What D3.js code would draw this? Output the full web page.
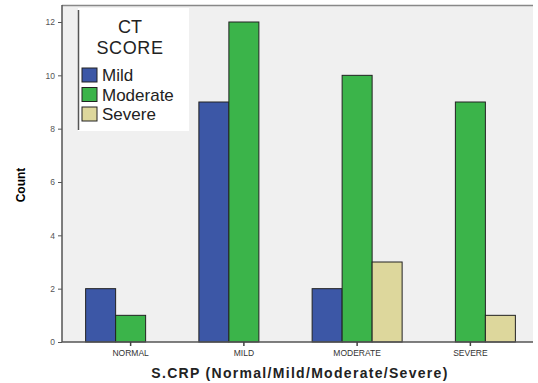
<!DOCTYPE html>
<html lang="en">
<head>
  <meta charset="UTF-8">
  <title>CT Score by S.CRP</title>
  <style>
      body { margin: 0; background: #fff; }
      text { font-family: Arial, "Liberation Sans", sans-serif; }
  </style>
</head>
<body>
<div id="chart"></div>
<script src="https://d3js.org/d3.v7.min.js"></script>
<script>
  const categories = ['NORMAL', 'MILD', 'MODERATE', 'SEVERE'];
  const series = ['Mild', 'Moderate', 'Severe'];
  const mild = [2, 9, 2, 0];
  const moderate = [1, 12, 10, 9];
  const severe = [0, 0, 3, 1];
  const yTicks = [0, 2, 4, 6, 8, 10, 12];
  const colors = ['#3c57a6', '#3bb44a', '#ddd79c'];

  const values = [mild, moderate, severe];

  const W = 538, H = 383;
  const plot = {left: 62, right: 533, top: 5, bottom: 342};

  const svg = d3.select("#chart").append("svg")
    .attr("width", W)
    .attr("height", H);

  svg.append("rect")
    .attr("x", plot.left).attr("y", plot.top)
    .attr("width", plot.right - plot.left)
    .attr("height", plot.bottom - plot.top)
    .attr("fill", "#f0f0f0");

  svg.append("line")
    .attr("x1", plot.left).attr("x2", plot.right)
    .attr("y1", plot.top + 0.5).attr("y2", plot.top + 0.5)
    .attr("stroke", "#888").attr("stroke-width", 1.5);

  const x = d3.scaleBand()
    .domain(categories)
    .range([74, 527])
    .padding(0);

  const x1 = d3.scaleBand()
    .domain(series)
    .range([0, 90]);

  const y = d3.scaleLinear()
    .domain([0, 12])
    .range([plot.bottom, 22]);

  // bars
  const groups = svg.selectAll(".grp")
    .data(categories)
    .enter().append("g")
    .attr("class", "grp")
    .attr("transform", d => `translate(${x(d) + x.bandwidth() / 2 - 45},0)`);

  groups.selectAll("rect")
    .data((c, i) => series.map((s, j) => ({s, j, v: values[j][i]})).filter(d => d.v > 0))
    .enter().append("rect")
    .attr("x", d => x1(d.s))
    .attr("y", d => y(d.v))
    .attr("width", x1.bandwidth())
    .attr("height", d => y(0) - y(d.v))
    .attr("fill", d => colors[d.j])
    .attr("stroke", "#222")
    .attr("stroke-width", 1);

  // axes
  const yAxis = svg.append("g")
    .attr("transform", `translate(${plot.left},0)`)
    .call(d3.axisLeft(y).tickValues(yTicks).tickSize(4).tickPadding(3));
  yAxis.select(".domain").attr("stroke", "#555").attr("stroke-width", 1.5)
    .attr("d", `M0,${plot.top}V${plot.bottom}`);
  yAxis.selectAll(".tick line").attr("stroke", "#555");
  yAxis.selectAll(".tick text").style("font-size", "8.5px").attr("fill", "#555");

  const xAxis = svg.append("g")
    .attr("transform", `translate(0,${plot.bottom})`)
    .call(d3.axisBottom(x).tickSize(4).tickPadding(4));
  xAxis.select(".domain").attr("stroke", "#555").attr("stroke-width", 1.5)
    .attr("d", `M${plot.left},0H${plot.right}`);
  xAxis.selectAll(".tick line").attr("stroke", "#444").attr("stroke-width", 1.5);
  xAxis.selectAll(".tick text").style("font-size", "8.5px").attr("fill", "#333");

  // axis titles
  svg.append("text")
    .attr("transform", "translate(25,185) rotate(-90)")
    .attr("text-anchor", "middle")
    .style("font-size", "12px")
    .style("font-weight", "bold")
    .text("Count");

  svg.append("text")
    .attr("x", 300).attr("y", 378)
    .attr("text-anchor", "middle")
    .style("font-size", "14px")
    .style("font-weight", "bold")
    .style("letter-spacing", "1.3px")
    .attr("fill", "#222")
    .text("S.CRP (Normal/Mild/Moderate/Severe)");

  // legend
  const legend = svg.append("g");
  legend.append("rect")
    .attr("x", 78).attr("y", 8)
    .attr("width", 111).attr("height", 123)
    .attr("fill", "#fff");
  legend.append("line")
    .attr("x1", 78.5).attr("x2", 78.5)
    .attr("y1", 10).attr("y2", 130)
    .attr("stroke", "#555").attr("stroke-width", 1.5);
  legend.append("text")
    .attr("x", 130).attr("y", 33)
    .attr("text-anchor", "middle")
    .style("font-size", "18px")
    .attr("fill", "#222")
    .text("CT");
  legend.append("text")
    .attr("x", 130).attr("y", 54)
    .attr("text-anchor", "middle")
    .style("font-size", "18px")
    .style("letter-spacing", "0.6px")
    .attr("fill", "#222")
    .text("SCORE");
  series.forEach((s, i) => {
    const ly = 68 + i * 19.5;
    legend.append("rect")
      .attr("x", 82).attr("y", ly)
      .attr("width", 15).attr("height", 14)
      .attr("fill", colors[i])
      .attr("stroke", "#222");
    legend.append("text")
      .attr("x", 102).attr("y", ly + 13)
      .style("font-size", "17px")
      .attr("fill", "#222")
      .text(s);
  });
</script>
</body>
</html>
